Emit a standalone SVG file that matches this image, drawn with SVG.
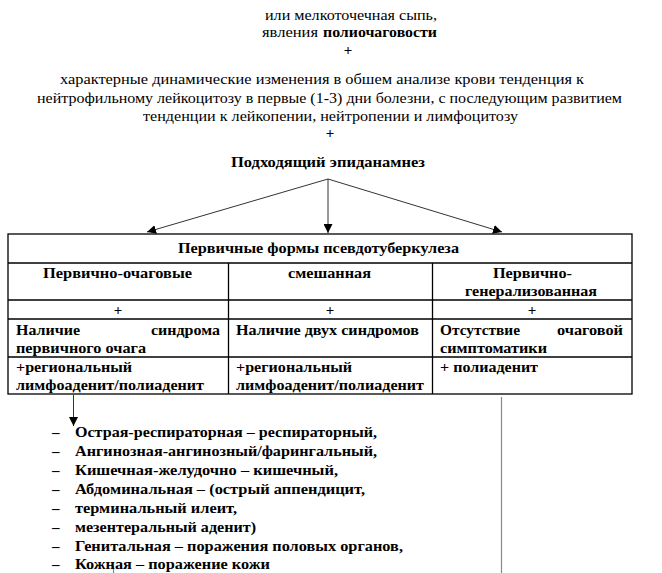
<svg xmlns="http://www.w3.org/2000/svg" width="662" height="573" viewBox="0 0 662 573">
<defs>
<style>
text{font-family:"Liberation Serif","Times New Roman",serif;font-size:15px;fill:#000}
.b{font-weight:bold}
.m{text-anchor:middle}
.e{text-anchor:end}
.grid{stroke:#000;stroke-width:1.3;fill:none}
.conn{stroke:#333;stroke-width:1;fill:none}
.gray{stroke:#888;stroke-width:1.2;fill:none}
</style>
<marker id="ah" viewBox="0 0 10 10" refX="10" refY="5" markerWidth="9" markerHeight="9" markerUnits="userSpaceOnUse" orient="auto">
<path d="M0,0 L10,5 L0,10 Z" fill="#000"/>
</marker>
</defs>
<rect width="662" height="573" fill="#fff"/>

<g id="header">
<text class="m" x="351" y="20" textLength="172" lengthAdjust="spacingAndGlyphs">или мелкоточечная сыпь,</text>
<text x="262" y="37" textLength="56" lengthAdjust="spacingAndGlyphs">явления</text>
<text class="b" x="323" y="37" textLength="114" lengthAdjust="spacingAndGlyphs">полиочаговости</text>
<text class="m b" x="348" y="55">+</text>
<text class="m" x="322" y="84" textLength="524" lengthAdjust="spacingAndGlyphs">характерные динамические изменения в обшем анализе крови тенденция к</text>
<text class="m" x="329.5" y="103" textLength="585" lengthAdjust="spacingAndGlyphs">нейтрофильному лейкоцитозу в первые (1-3) дни болезни, с последующим развитием</text>
<text class="m" x="330.5" y="121" textLength="375" lengthAdjust="spacingAndGlyphs">тенденции к лейкопении, нейтропении и лимфоцитозу</text>
<text class="m b" x="330" y="138">+</text>
</g>

<g id="epid">
<text class="m b" x="328" y="167" textLength="194" lengthAdjust="spacingAndGlyphs">Подходящий эпиданамнез</text>
</g>

<g id="connectors">
<line class="conn" x1="328" y1="179" x2="147" y2="232" marker-end="url(#ah)"/>
<line class="conn" x1="328" y1="179" x2="328" y2="233" marker-end="url(#ah)"/>
<line class="conn" x1="328" y1="179" x2="502" y2="232" marker-end="url(#ah)"/>
<line class="conn" x1="73.5" y1="395" x2="73.5" y2="426" marker-end="url(#ah)"/>
<line class="gray" x1="501.5" y1="397" x2="501.5" y2="573"/>
<line class="gray" x1="113.5" y1="566" x2="113.5" y2="573"/>
</g>

<g id="table">
<rect class="grid" x="8" y="234" width="624" height="160"/>
<line class="grid" x1="8" y1="263" x2="632" y2="263"/>
<line class="grid" x1="8" y1="300" x2="632" y2="300"/>
<line class="grid" x1="8" y1="319" x2="632" y2="319"/>
<line class="grid" x1="8" y1="357" x2="632" y2="357"/>
<line class="grid" x1="228.5" y1="263" x2="228.5" y2="394"/>
<line class="grid" x1="432.5" y1="263" x2="432.5" y2="394"/>
<text class="m b" x="318.5" y="253" textLength="281" lengthAdjust="spacingAndGlyphs">Первичные формы псевдотуберкулеза</text>
</g>

<g id="col1">
<text class="m b" x="117.5" y="278" textLength="149" lengthAdjust="spacingAndGlyphs">Первично-очаговые</text>
<text class="m b" x="118" y="315">+</text>
<text class="b" x="16" y="335" textLength="64" lengthAdjust="spacingAndGlyphs">Наличие</text>
<text class="b e" x="220" y="335" textLength="69" lengthAdjust="spacingAndGlyphs">синдрома</text>
<text class="b" x="16" y="353" textLength="130" lengthAdjust="spacingAndGlyphs">первичного очага</text>
<text class="b" x="16" y="372" textLength="116" lengthAdjust="spacingAndGlyphs">+региональный</text>
<text class="b" x="16" y="390" textLength="188" lengthAdjust="spacingAndGlyphs">лимфоаденит/полиаденит</text>
</g>

<g id="col2">
<text class="m b" x="329.5" y="278" textLength="83" lengthAdjust="spacingAndGlyphs">смешанная</text>
<text class="m b" x="330" y="315">+</text>
<text class="b" x="236" y="335" textLength="183" lengthAdjust="spacingAndGlyphs">Наличие двух синдромов</text>
<text class="b" x="236" y="372" textLength="116" lengthAdjust="spacingAndGlyphs">+региональный</text>
<text class="b" x="236" y="390" textLength="188" lengthAdjust="spacingAndGlyphs">лимфоаденит/полиаденит</text>
</g>

<g id="col3">
<text class="m b" x="532.5" y="278" textLength="79" lengthAdjust="spacingAndGlyphs">Первично-</text>
<text class="m b" x="531" y="296" textLength="132" lengthAdjust="spacingAndGlyphs">генерализованная</text>
<text class="m b" x="532" y="315">+</text>
<text class="b" x="440" y="335" textLength="80" lengthAdjust="spacingAndGlyphs">Отсутствие</text>
<text class="b e" x="623" y="335" textLength="66" lengthAdjust="spacingAndGlyphs">очаговой</text>
<text class="b" x="440" y="353" textLength="107" lengthAdjust="spacingAndGlyphs">симптоматики</text>
<text class="b" x="440" y="372" textLength="98" lengthAdjust="spacingAndGlyphs">+ полиаденит</text>
</g>

<g id="list">
<text class="b" x="52" y="437">–</text><text class="b" x="75" y="437" textLength="302" lengthAdjust="spacingAndGlyphs">Острая-респираторная – респираторный,</text>
<text class="b" x="52" y="456">–</text><text class="b" x="75" y="456" textLength="302" lengthAdjust="spacingAndGlyphs">Ангинозная-ангинозный/фарингальный,</text>
<text class="b" x="52" y="475">–</text><text class="b" x="75" y="475" textLength="263" lengthAdjust="spacingAndGlyphs">Кишечная-желудочно – кишечный,</text>
<text class="b" x="52" y="494">–</text><text class="b" x="75" y="494" textLength="290" lengthAdjust="spacingAndGlyphs">Абдоминальная – (острый аппендицит,</text>
<text class="b" x="52" y="513">–</text><text class="b" x="75" y="513" textLength="162" lengthAdjust="spacingAndGlyphs">терминальный илеит,</text>
<text class="b" x="52" y="532">–</text><text class="b" x="75" y="532" textLength="181" lengthAdjust="spacingAndGlyphs">мезентеральный аденит)</text>
<text class="b" x="52" y="551">–</text><text class="b" x="75" y="551" textLength="328" lengthAdjust="spacingAndGlyphs">Генитальная – поражения половых органов,</text>
<text class="b" x="52" y="569">–</text><text class="b" x="75" y="569" textLength="195" lengthAdjust="spacingAndGlyphs">Кожная – поражение кожи</text>
</g>
</svg>
